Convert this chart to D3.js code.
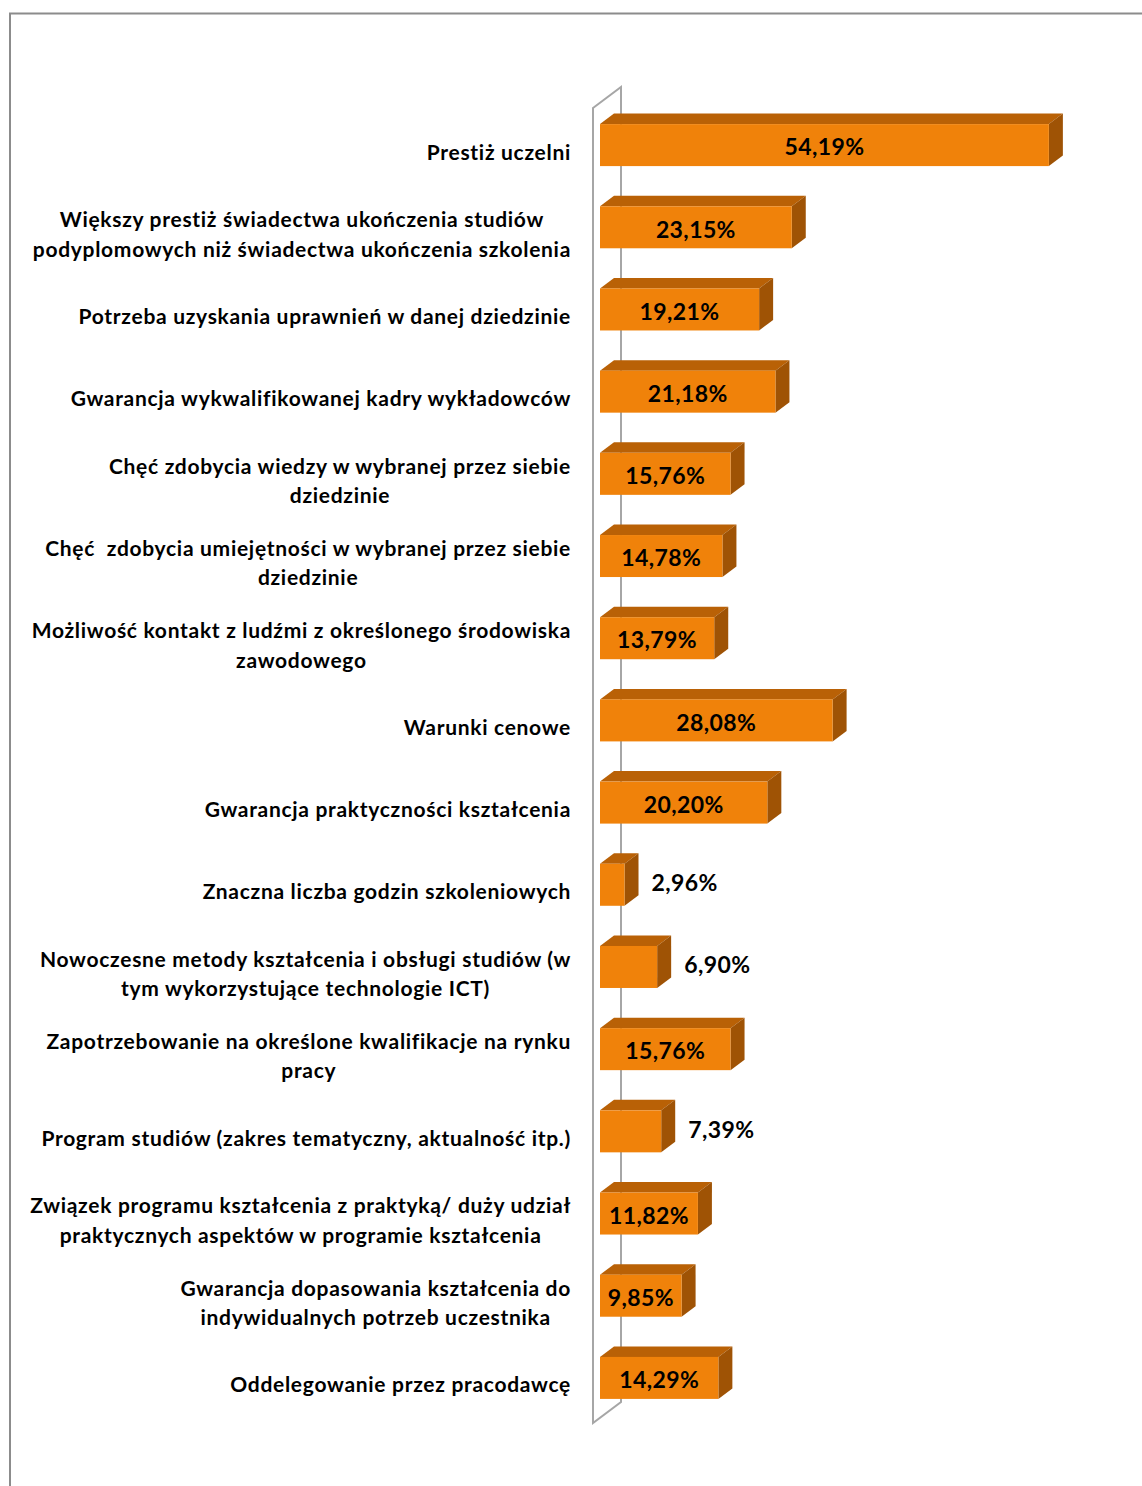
<!DOCTYPE html>
<html>
<head>
<meta charset="utf-8">
<script src="https://cdn.jsdelivr.net/npm/d3@7"></script>
<style>
  body { margin: 0; background: #fff; }
  svg { display: block; }
  text { font-family: Lato, "Open Sans", sans-serif; font-weight: bold; fill: #000; }
</style>
</head>
<body>
<div id="content"></div>
<script>
// categories (each entry = lines of the label) and values in %
var categories = [
    ["Prestiż uczelni"],
    ["Większy prestiż świadectwa ukończenia studiów", "podyplomowych niż świadectwa ukończenia szkolenia"],
    ["Potrzeba uzyskania uprawnień w danej dziedzinie"],
    ["Gwarancja wykwalifikowanej kadry wykładowców"],
    ["Chęć zdobycia wiedzy w wybranej przez siebie", "dziedzinie"],
    ["Chęć\u00a0 zdobycia umiejętności w wybranej przez siebie", "dziedzinie"],
    ["Możliwość kontakt z ludźmi z określonego środowiska", "zawodowego"],
    ["Warunki cenowe"],
    ["Gwarancja praktyczności kształcenia"],
    ["Znaczna liczba godzin szkoleniowych"],
    ["Nowoczesne metody kształcenia i obsługi studiów (w", "tym wykorzystujące technologie ICT)"],
    ["Zapotrzebowanie na określone kwalifikacje na rynku", "pracy"],
    ["Program studiów (zakres tematyczny, aktualność itp.)"],
    ["Związek programu kształcenia z praktyką/ duży udział", "praktycznych aspektów w programie kształcenia"],
    ["Gwarancja dopasowania kształcenia do", "indywidualnych potrzeb uczestnika"],
    ["Oddelegowanie przez pracodawcę"]
];
var values = [54.19, 23.15, 19.21, 21.18, 15.76, 14.78, 13.79, 28.08, 20.20, 2.96, 6.90, 15.76, 7.39, 11.82, 9.85, 14.29];
var valueLabels = ["54,19%", "23,15%", "19,21%", "21,18%", "15,76%", "14,78%", "13,79%", "28,08%", "20,20%", "2,96%", "6,90%", "15,76%", "7,39%", "11,82%", "9,85%", "14,29%"];

var width = 1142,
    height = 1486,
    wallX = 593,           // front edge of the side wall
    depthX = 28, depthY = -21, // 3d depth of the wall
    barH = 42;

var data = values.map(function(v, i){
    return { id: i, value: v, lines: categories[i], label: valueLabels[i] };
});

var svg = d3.select('#content').append('svg')
    .attr('width', width)
    .attr('height', height);

// outer frame
svg.append('path')
    .attr('d', 'M10,' + height + 'V13.5H' + width)
    .attr('fill', 'none')
    .attr('stroke', '#8c8c8c')
    .attr('stroke-width', 2);

var yScale = d3.scaleBand()
    .domain(d3.range(data.length))
    .range([108, 1423])
    .paddingInner(0.49)
    .paddingOuter(0.245);

var xScale = d3.scaleLinear()
    .domain([0, 60])
    .range([wallX, wallX + 497]);

var top0 = yScale.range()[0],
    bot0 = yScale.range()[1];

// side wall (only its outline is visible)
svg.append('path')
    .attr('d', 'M' + wallX + ',' + top0 +
        'L' + (wallX + depthX) + ',' + (top0 + depthY) +
        'V' + (bot0 + depthY) +
        'L' + wallX + ',' + bot0 + 'Z')
    .attr('fill', 'none')
    .attr('stroke', '#a6a6a6')
    .attr('stroke-width', 2);

// bar sits in the middle of the depth
var fx = depthX / 4, fy = -4,     // front face offset
    bx = depthX / 2, by = depthY / 2;   // bar depth

var bars = svg.selectAll('g.bar')
    .data(data)
    .enter()
    .append('g')
    .attr('class', 'bar');

function front(d){
    var x0 = xScale(0) + fx,
        x1 = xScale(d.value) + fx,
        y0 = yScale(d.id) + yScale.bandwidth() / 2 - barH / 2 + fy;
    return { x0: x0, x1: x1, y0: y0, y1: y0 + barH };
}

// top face
bars.append('path')
    .attr('d', function(d){
        var f = front(d);
        return 'M' + f.x0 + ',' + f.y0 + 'L' + (f.x0 + bx) + ',' + (f.y0 + by) +
            'L' + (f.x1 + bx) + ',' + (f.y0 + by) + 'L' + f.x1 + ',' + f.y0 + 'Z';
    })
    .attr('fill', '#b96106');

// side face
bars.append('path')
    .attr('d', function(d){
        var f = front(d);
        return 'M' + f.x1 + ',' + f.y0 + 'L' + (f.x1 + bx) + ',' + (f.y0 + by) +
            'L' + (f.x1 + bx) + ',' + (f.y1 + by) + 'L' + f.x1 + ',' + f.y1 + 'Z';
    })
    .attr('fill', '#9f5305');

// front face
bars.append('rect')
    .attr('x', function(d){ return front(d).x0; })
    .attr('y', function(d){ return front(d).y0; })
    .attr('width', function(d){ var f = front(d); return f.x1 - f.x0; })
    .attr('height', barH)
    .attr('fill', '#f0820a');

// value labels: inside the front face, or to the right when they do not fit
bars.append('text')
    .style('font-size', '23px')
    .style('letter-spacing', '0.4px')
    .attr('dy', '0.36em')
    .text(function(d){ return d.label; })
    .each(function(d){
        var f = front(d),
            w = this.getComputedTextLength(),
            el = d3.select(this),
            cy = (f.y0 + f.y1) / 2;
        if(w + 6 < f.x1 - f.x0) {
            el.attr('x', (f.x0 + f.x1) / 2).attr('y', cy + 2).attr('text-anchor', 'middle');
        } else {
            el.attr('x', f.x1 + 27).attr('y', cy - 2).attr('text-anchor', 'start');
        }
    });

// category labels, right aligned block with centred lines
var lineH = 29.5,
    labelRight = 571;

var cat = svg.selectAll('g.cat')
    .data(data)
    .enter()
    .append('g')
    .attr('class', 'cat');

cat.each(function(d){
    var g = d3.select(this),
        cy = yScale(d.id) + yScale.bandwidth() / 2 + 3,
        n = d.lines.length;
    var texts = g.selectAll('text')
        .data(d.lines)
        .enter()
        .append('text')
        .style('font-size', '21px')
        .style('letter-spacing', '0.7px')
        .attr('text-anchor', 'middle')
        .attr('dy', '0.36em')
        .attr('y', function(l, i){ return cy + (i - (n - 1) / 2) * lineH; })
        .text(function(l){ return l; });
    var maxW = d3.max(texts.nodes(), function(node){ return node.getComputedTextLength(); });
    texts.attr('x', labelRight - maxW / 2);
});
</script>
</body>
</html>
